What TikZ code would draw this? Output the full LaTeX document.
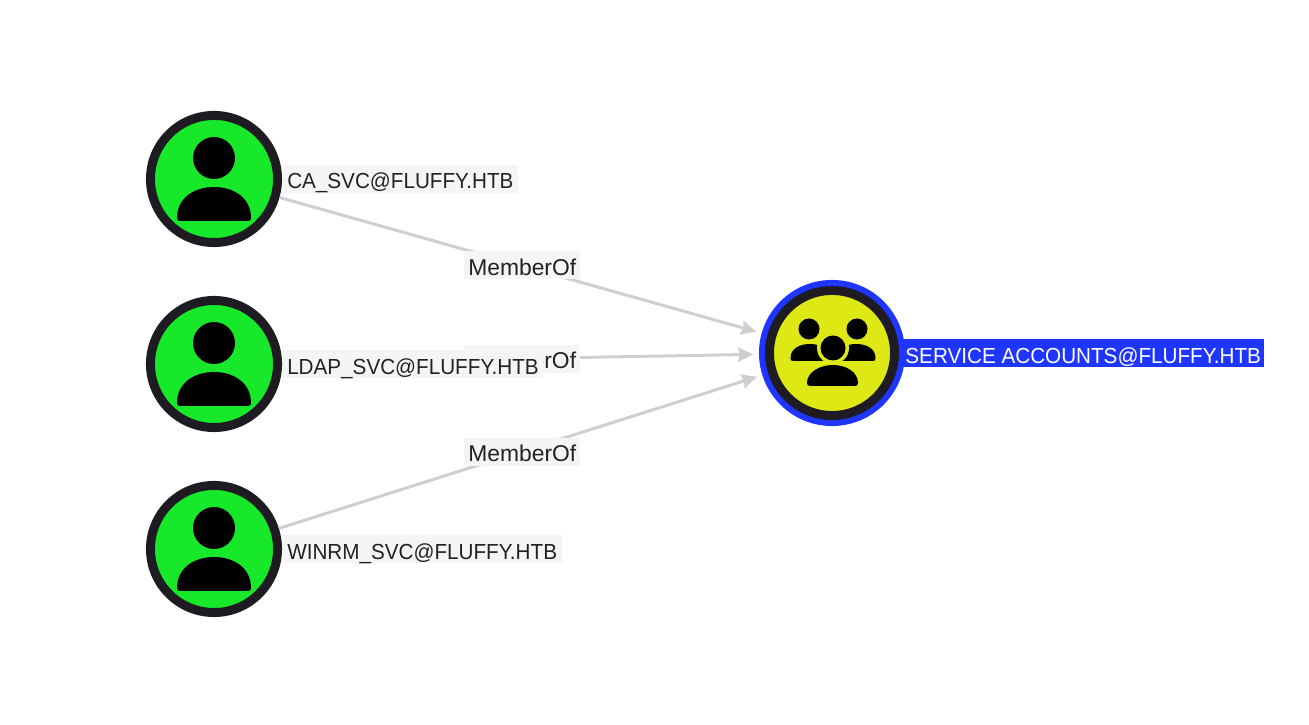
\documentclass[tikz,border=0pt]{standalone}
\usepackage{fontspec}
\setmainfont{Liberation Sans}
\newfontfamily\namefont[FakeStretch=0.948]{Liberation Sans}
\usetikzlibrary{arrows.meta, positioning}

\definecolor{ringdark}{HTML}{1E1C22}
\definecolor{usergreen}{HTML}{17E829}
\definecolor{groupyellow}{HTML}{DDE815}
\definecolor{selblue}{HTML}{1E36FF}
\definecolor{edgegray}{HTML}{CFCFCF}
\definecolor{labelbg}{HTML}{F5F5F5}
\definecolor{labeltext}{HTML}{222222}

\tikzset{
  usernode/.style={circle, draw=ringdark, line width=0.09cm, fill=usergreen, inner sep=0pt, minimum size=1.27cm},
  groupnode/.style={circle, draw=ringdark, line width=0.09cm, fill=groupyellow, inner sep=0pt, minimum size=1.25cm},
  selnode/.style={circle, fill=selblue, inner sep=0pt, minimum size=1.46cm},
  namelabel/.style={fill=labelbg, text=labeltext, font=\namefont\fontsize{6.2}{7}\selectfont, inner xsep=0.045cm, inner ysep=0pt, minimum height=0.28cm, text height=0.24cm, text depth=0.04cm},
  sellabel/.style={namelabel, fill=selblue, text=white, inner xsep=0.03cm},
  edgelabel/.style={namelabel, font=\fontsize{6.5}{7}\selectfont, inner xsep=0.04cm, xshift=0.02cm},
  memberedge/.style={draw=edgegray, line width=0.03cm, -{Stealth[length=0.15cm,width=0.14cm,inset=0.015cm]}, shorten >=0.05cm},
  pics/usericon/.style={code={
    \fill[black] (0,-21) circle (21);
    \fill[black] (-34,42) .. controls (-36,42) and (-37,41) .. (-37,39) .. controls (-37,19) and (-20,8) .. (0,8) .. controls (20,8) and (37,19) .. (37,39) .. controls (37,41) and (36,42) .. (34,42) -- cycle;
  }},
  pics/groupicon/.style={code={
    \fill[black] (-23,-24) circle (10.5);
    \fill[black] (25,-24) circle (10.5);
    \fill[black] (-39,8) .. controls (-41,8) and (-41.5,7) .. (-41.5,5) .. controls (-41.5,-4) and (-33,-9) .. (-22,-9) .. controls (-10,-9) and (-3,-3) .. (-3,8) -- cycle;
    \fill[black] (41,8) .. controls (43,8) and (43.5,7) .. (43.5,5) .. controls (43.5,-4) and (35,-9) .. (24,-9) .. controls (12,-9) and (5,-3) .. (5,8) -- cycle;
    \fill[groupyellow] (1,-5) circle (16);
    \fill[black] (1,-5) circle (12.5);
    \fill[black] (-22,33) .. controls (-24,33) and (-25,32) .. (-25,30) .. controls (-25,19) and (-12,12) .. (1,12) .. controls (14,12) and (26,19) .. (26,30) .. controls (26,32) and (25,33) .. (23,33) -- cycle;
  }},
}

\begin{document}
\begin{tikzpicture}[x=0.01cm,y=-0.01cm]
\useasboundingbox (0,0) rectangle (1309,725);

\node[usernode] (casvc) at (214,179) {};
\node[usernode] (ldapsvc) at (214,364) {};
\node[usernode] (winrmsvc) at (214,549) {};
\node[selnode] (svcaccts) at (832,353) {};
\node[groupnode] (svcring) at (832,353) {};

\pic at (casvc) {usericon};
\pic at (ldapsvc) {usericon};
\pic at (winrmsvc) {usericon};
\pic at (svcaccts) {groupicon};

\draw[memberedge] (casvc) -- node[edgelabel] (edgeca) {MemberOf} (svcaccts);
\draw[memberedge] (ldapsvc) -- node[edgelabel] (edgeldap) {MemberOf} (svcaccts);
\draw[memberedge] (winrmsvc) -- node[edgelabel] (edgewinrm) {MemberOf} (svcaccts);

\node[namelabel, right=0pt of casvc] (calabel) {CA\_SVC@FLUFFY.HTB};
\node[namelabel, right=0pt of ldapsvc] (ldaplabel) {LDAP\_SVC@FLUFFY.HTB};
\node[namelabel, right=0pt of winrmsvc] (winrmlabel) {WINRM\_SVC@FLUFFY.HTB};
\node[sellabel, right=-0.04cm of svcaccts] (svclabel) {SERVICE ACCOUNTS@FLUFFY.HTB};
\end{tikzpicture}
\end{document}
